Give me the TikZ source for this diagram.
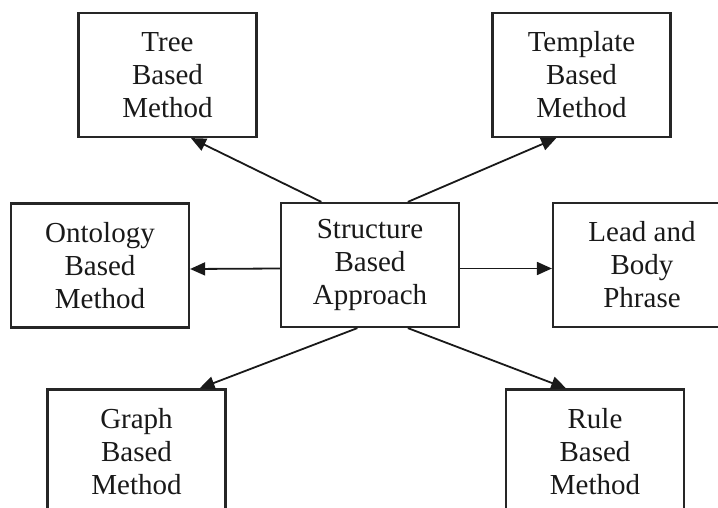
\documentclass[tikz,border=0pt]{standalone}
\usepackage{fontspec}
\setmainfont{Liberation Serif}
\usetikzlibrary{arrows.meta,calc}

\begin{document}
\begin{tikzpicture}[x=1pt,y=-1pt,
  box/.style={draw=black!85,line width=2.2pt,minimum width=178pt,minimum height=124pt,
    align=center,inner sep=0pt,font=\fontsize{29}{33}\selectfont,text=black!90},
  link/.style={line width=1.8pt,draw=black!90,-{Triangle[length=15pt,width=13pt]}}]
\useasboundingbox (0,0) rectangle (718,508);
\clip (0,0) rectangle (718,508);

% hub and its seven methods
\node[box] (s) at (370,265) {Structure\\Based\\Approach};
\node[box] (tree) at (167.5,75) {Tree\\Based\\Method};
\node[box] (tmpl) at (581.5,75) {Template\\Based\\Method};
\node[box] (onto) at (100,265.5) {Ontology\\Based\\Method};
\node[box] (lead) at (642,265) {Lead and\\Body\\Phrase};
\node[box] (graph) at (136.5,451.5) {Graph\\Based\\Method};
\node[box] (rule) at (595,451.5) {Rule\\Based\\Method};

% connectors
\draw[link] ($(s.north west)!0.23!(s.north east)$) -- ($(tree.south west)!0.63!(tree.south east)$);
\draw[link] ($(s.north west)!0.71!(s.north east)$) -- ($(tmpl.south west)!0.36!(tmpl.south east)$);
\draw[link] ($(s.west)+(0,3.5)$) -- ($(onto.east)+(0,3.5)$);
\draw[link] ($(s.east)+(0,3.5)$) -- ($(lead.west)+(0,3.5)$);
\draw[link] ($(s.south west)!0.43!(s.south east)$) -- ($(graph.north west)!0.85!(graph.north east)$);
\draw[link] ($(s.south west)!0.71!(s.south east)$) -- ($(rule.north west)!0.34!(rule.north east)$);
\end{tikzpicture}
\end{document}
